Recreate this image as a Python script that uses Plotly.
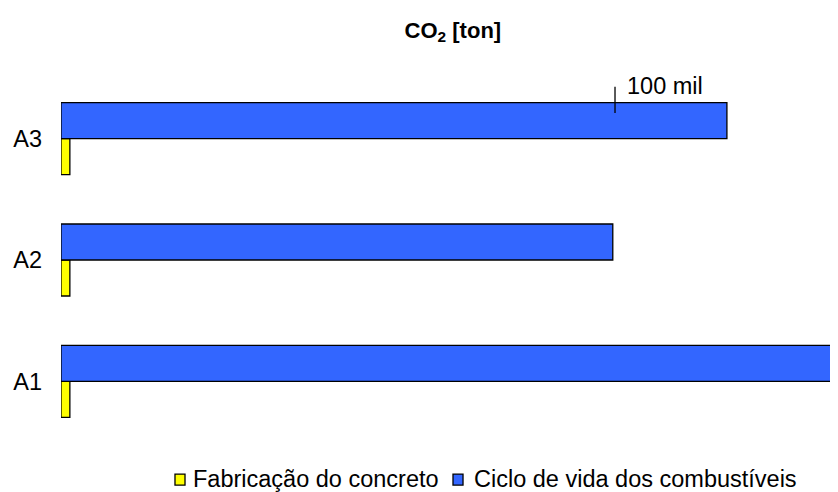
import plotly.graph_objects as go

categories = ["A1", "A2", "A3"]
fabricacao = [1600, 1600, 1600]
ciclo_vida = [150000, 99600, 120200]
series_names = ["Fabricação do concreto", "Ciclo de vida dos combustíveis"]
series_colors = ["#FFFF00", "#3366FF"]
marker_value = 100000
marker_label = "100 mil"
x_max = 140250

FONT = "Liberation Sans, Arial, sans-serif"
FS = 23.5

fig = go.Figure()
for name, vals, col in zip(series_names, [fabricacao, ciclo_vida], series_colors):
    fig.add_trace(go.Bar(
        y=categories, x=vals, orientation="h", name=name,
        marker=dict(color=col, line=dict(color="#000000", width=1.3)),
        showlegend=False,
    ))

# tick mark for 100 mil
fig.add_shape(type="line", xref="x", yref="paper",
              x0=marker_value, x1=marker_value, y0=0.904, y1=0.976,
              line=dict(color="#000000", width=1.3))
fig.add_annotation(x=marker_value, xref="x", y=0.978, yref="paper",
                   text=marker_label, showarrow=False, xanchor="left",
                   yanchor="middle", xshift=10,
                   font=dict(family=FONT, size=FS, color="#000000"))

# legend (manual, compact like the reference)
leg_sq_x = [0.1467, 0.5045]
leg_txt_x = [0.1673, 0.529]
sq_w = 0.0129
for i in range(2):
    fig.add_shape(type="rect", xref="paper", yref="paper",
                  x0=leg_sq_x[i], x1=leg_sq_x[i] + sq_w, y0=-0.1184, y1=-0.0882,
                  fillcolor=series_colors[i], line=dict(color="#000000", width=1.3))
    fig.add_annotation(x=leg_txt_x[i], xref="paper", y=-0.103, yref="paper",
                       text=series_names[i], showarrow=False, xanchor="left",
                       yanchor="middle",
                       font=dict(family=FONT, size=FS, color="#000000"))

fig.update_layout(
    width=830, height=484,
    margin=dict(l=53, r=0, t=70, b=50),
    paper_bgcolor="#FFFFFF", plot_bgcolor="#FFFFFF",
    barmode="group", bargap=0.407, bargroupgap=0,
    title=dict(text="<b>CO<sub>2</sub> [ton]</b>", x=0.536, xanchor="center",
               y=0.9545, yanchor="middle", yref="container",
               font=dict(family=FONT, size=22, color="#000000")),
    xaxis=dict(range=[0, x_max], showticklabels=False, showgrid=False,
               zeroline=False, showline=False, ticks=""),
    yaxis=dict(categoryorder="array", categoryarray=categories,
               range=[-0.5, 2.5], showgrid=False, zeroline=False,
               showline=False, ticks="", ticklabelstandoff=18,
               tickfont=dict(family=FONT, size=FS, color="#000000")),
    showlegend=False,
)

fig.write_html("out.html")
